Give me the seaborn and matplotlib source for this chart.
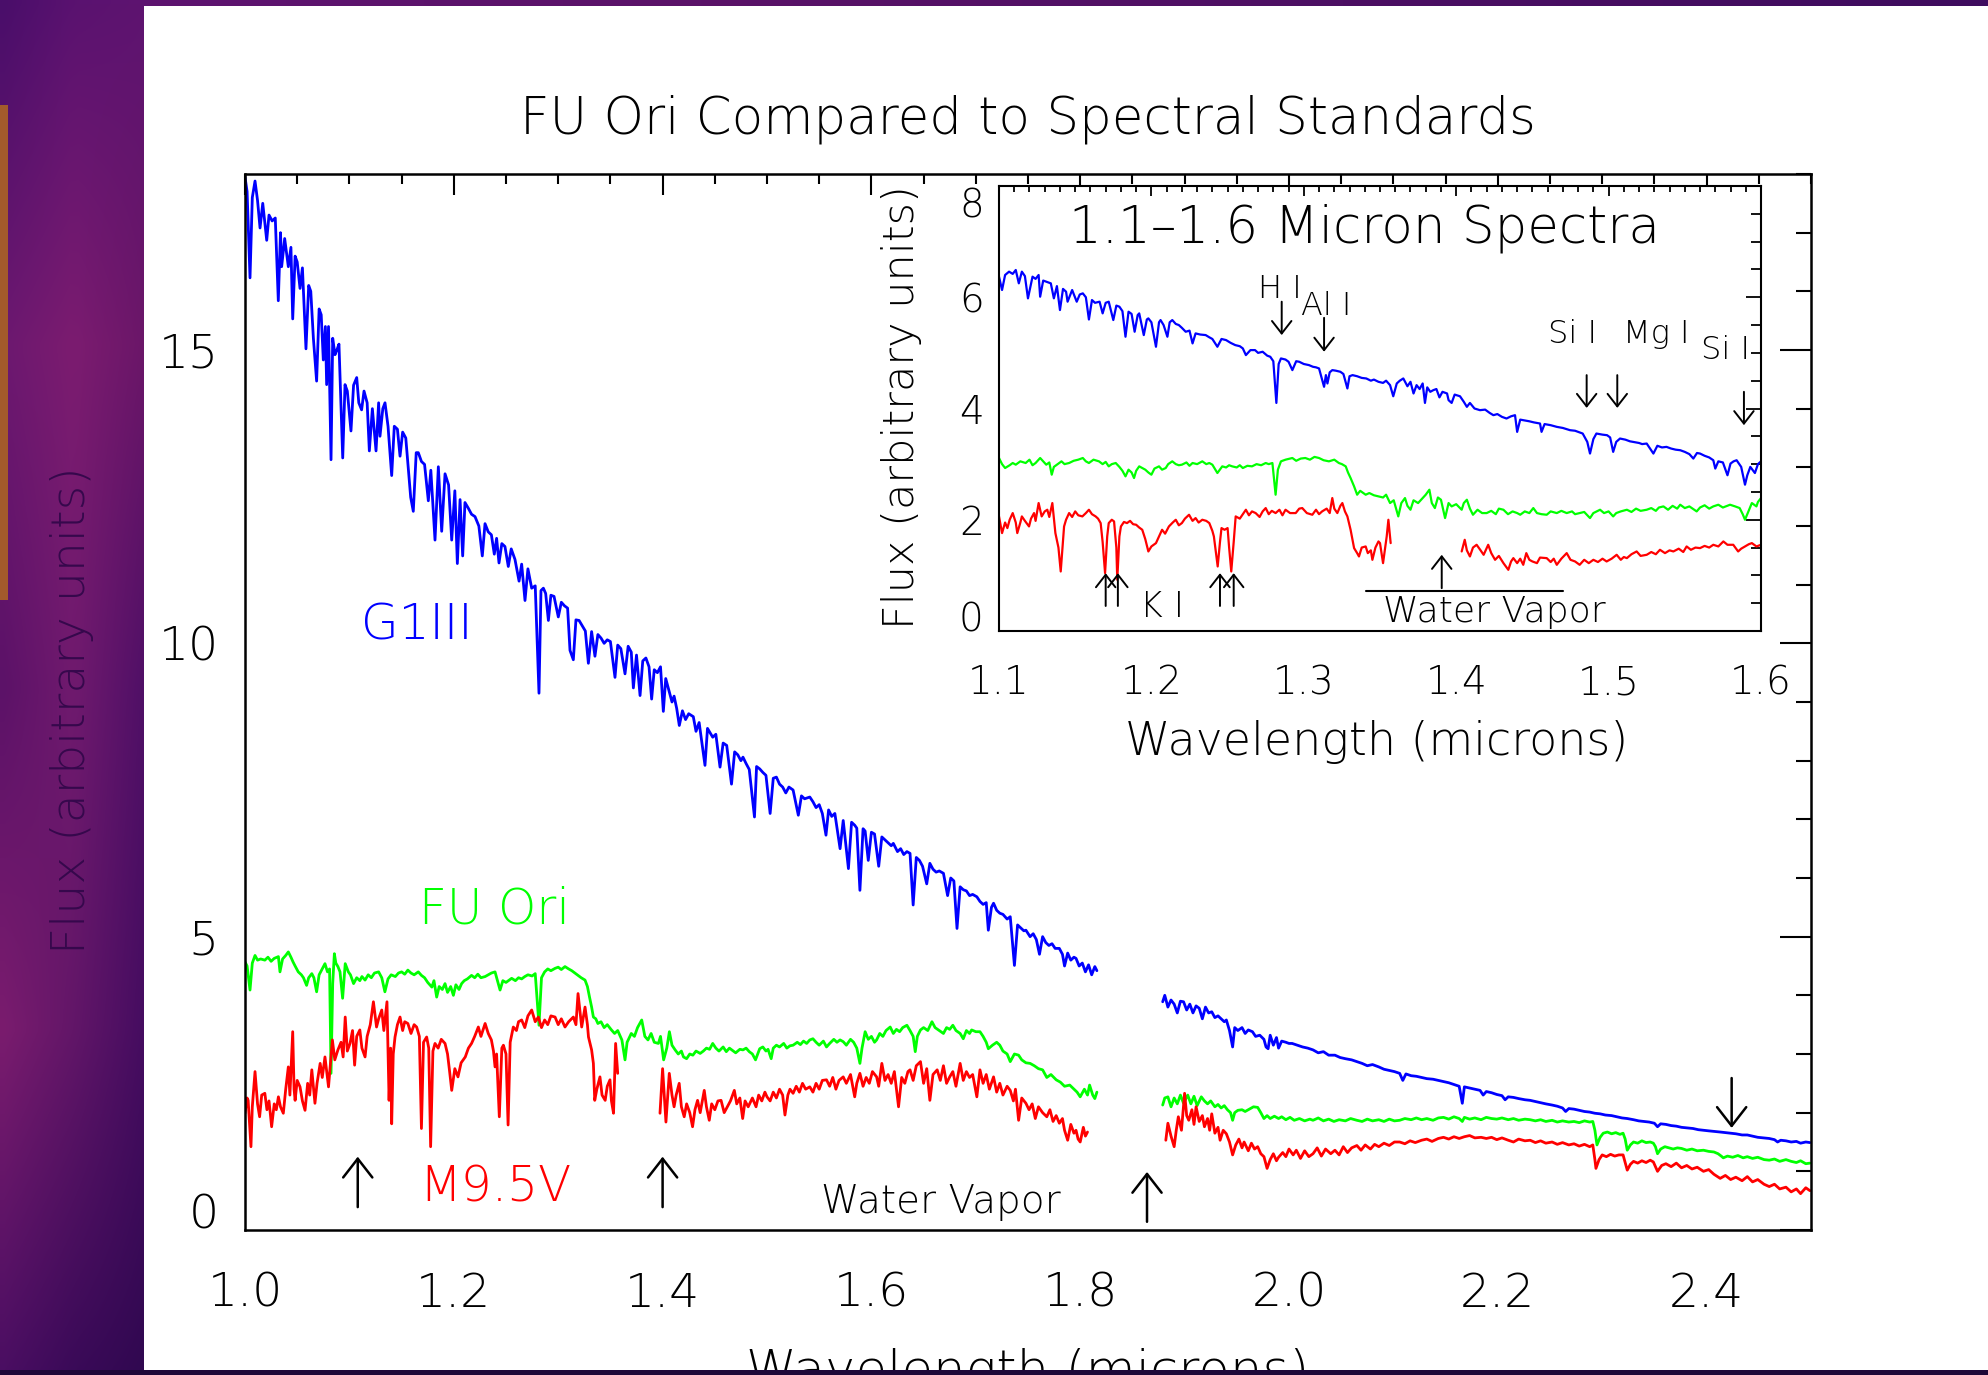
import numpy as np
import pandas as pd
import matplotlib
matplotlib.use("Agg")
import matplotlib.pyplot as plt
import matplotlib.font_manager as fm
from matplotlib.patches import Rectangle
from matplotlib.ticker import MultipleLocator
from matplotlib.transforms import ScaledTranslation
import seaborn as sns

# ---------------------------------------------------------------- text
TITLE = "FU Ori Compared to Spectral Standards"
INSET_TITLE = "1.1\u20131.6 Micron Spectra"
XLABEL = "Wavelength (microns)"
YLABEL = "Flux (arbitrary units)"
STARS = ["G1III", "FU Ori", "M9.5V"]
COLORS = {"G1III": "#0000ff", "FU Ori": "#00ff00", "M9.5V": "#ff0000"}
MAIN_XTICKS = [1.0, 1.2, 1.4, 1.6, 1.8, 2.0, 2.2, 2.4]
MAIN_XTICK_LABELS = ["1.0", "1.2", "1.4", "1.6", "1.8", "2.0", "2.2", "2.4"]
MAIN_YTICKS = [0, 5, 10, 15]
MAIN_YTICK_LABELS = ["0", "5", "10", "15"]
INSET_XTICKS = [1.1, 1.2, 1.3, 1.4, 1.5, 1.6]
INSET_XTICK_LABELS = ["1.1", "1.2", "1.3", "1.4", "1.5", "1.6"]
INSET_YTICKS = [0, 2, 4, 6, 8]
INSET_YTICK_LABELS = ["0", "2", "4", "6", "8"]

# ---------------------------------------------------------------- main spectra (wavelength, flux)
G1III_A = [(1.000,17.95),(1.002,17.70),(1.0048,16.23),(1.007,17.60),(1.0096,17.88),(1.012,17.55),(1.0144,17.08),(1.017,17.50),
(1.0208,16.87),(1.023,17.30),(1.026,17.20),(1.029,17.25),(1.0319,15.84),(1.034,17.00),(1.0351,16.42),(1.038,16.90),(1.0415,16.42),
(1.044,16.75),(1.0457,15.53),(1.048,16.60),(1.050,16.50),(1.0527,16.05),(1.055,16.40),(1.0584,15.02),(1.061,16.10),(1.063,16.00),
(1.0655,15.20),(1.0686,14.47),(1.071,15.70),(1.073,15.60),(1.075,14.83),(1.077,15.40),(1.0782,14.41),(1.080,15.40),(1.0824,13.13),
(1.084,15.20),(1.0862,14.92),(1.088,15.00),(1.090,15.10),(1.0936,13.16),(1.0958,14.41),(1.098,14.30),(1.1015,13.62),(1.104,14.40),
(1.107,14.53),(1.109,14.10),(1.1117,13.98),(1.114,14.30),(1.117,14.10),(1.1191,13.28),(1.122,14.00),(1.1255,13.28),(1.128,14.10),
(1.1293,13.53),(1.132,14.00),(1.1341,14.10),(1.137,13.70),(1.1405,12.86),(1.143,13.70),(1.146,13.65),(1.1485,13.19),(1.151,13.60),
(1.154,13.50),(1.1587,12.49),(1.1612,12.25),(1.164,13.25),(1.166,13.25),(1.169,13.10),(1.172,13.05),(1.1756,12.43),(1.178,12.95),
(1.182,11.76),(1.1852,13.01),(1.1884,11.91),(1.1916,12.89),(1.195,12.70),(1.198,11.76),(1.201,12.60),(1.2034,11.36),(1.206,12.45),
(1.2085,11.49),(1.2107,12.40),(1.214,12.30),(1.217,12.20),(1.2203,12.16),(1.224,12.00),(1.2273,11.49),(1.2299,12.04),(1.233,11.90),
(1.236,11.85),(1.2388,11.52),(1.241,11.79),(1.2433,11.37),(1.246,11.70),(1.249,11.65),(1.2522,11.31),(1.255,11.61),(1.2586,11.43),
(1.2625,11.06),(1.265,11.35),(1.2682,10.73),(1.271,11.27),(1.2746,10.94),(1.278,10.98),(1.2816,9.15),(1.2835,10.90),(1.2858,10.94),
(1.288,10.85),(1.2906,10.39),(1.293,10.82),(1.296,10.80),(1.3001,10.45),(1.303,10.70),(1.306,10.64),(1.309,10.60),(1.3113,9.88),
(1.3145,9.72),(1.317,10.40),(1.320,10.39),(1.323,10.30),(1.326,10.21),(1.3289,9.66),(1.332,10.20),(1.3352,9.78),(1.338,10.15),
(1.341,10.09),(1.344,10.00),(1.347,10.06),(1.350,10.03),(1.3544,9.42),(1.357,9.97),(1.360,9.91),(1.364,9.48),(1.367,9.95),
(1.370,9.85),(1.372,9.24),(1.375,9.80),(1.3784,9.11),(1.381,9.70),(1.384,9.75),(1.387,9.60),(1.3895,9.05),(1.392,9.55),
(1.395,9.50),(1.398,9.60),(1.4007,8.84),(1.403,9.40),(1.406,9.20),(1.409,9.00),(1.411,9.10),(1.4135,8.89),(1.416,8.60),
(1.419,8.85),(1.422,8.70),(1.425,8.80),(1.4294,8.75),(1.432,8.50),(1.435,8.65),(1.4406,7.92),(1.443,8.55),(1.445,8.49),
(1.448,8.40),(1.451,8.45),(1.455,7.89),(1.458,8.30),(1.4614,8.26),(1.466,7.60),(1.469,8.15),(1.472,8.10),(1.475,8.00),
(1.477,8.06),(1.480,7.95),(1.483,7.85),(1.488,7.04),(1.490,7.90),(1.493,7.86),(1.496,7.80),(1.499,7.75),(1.503,7.10),
(1.506,7.70),(1.509,7.72),(1.512,7.60),(1.515,7.55),(1.518,7.45),(1.521,7.55),(1.525,7.50),(1.530,7.07),(1.533,7.40),
(1.536,7.35),(1.541,7.38),(1.544,7.30),(1.547,7.20),(1.550,7.25),(1.553,7.10),(1.5565,6.73),(1.559,7.16),(1.562,7.05),
(1.565,7.10),(1.570,6.50),(1.573,6.98),(1.578,6.16),(1.581,6.95),(1.584,6.90),(1.586,6.85),(1.589,5.79),(1.592,6.84),
(1.594,6.80),(1.597,6.30),(1.600,6.78),(1.603,6.75),(1.607,6.20),(1.610,6.70),(1.613,6.65),(1.616,6.60),(1.619,6.55),
(1.621,6.59),(1.625,6.45),(1.628,6.50),(1.631,6.40),(1.634,6.45),(1.637,6.42),(1.640,5.54),(1.643,6.35),(1.646,6.30),
(1.649,6.20),(1.653,5.90),(1.656,6.25),(1.659,6.15),(1.662,6.10),(1.665,6.12),(1.669,6.08),(1.673,5.70),(1.676,6.00),
(1.679,5.95),(1.682,5.14),(1.685,5.85),(1.688,5.80),(1.691,5.78),(1.694,5.70),(1.697,5.72),(1.701,5.68),(1.704,5.60),
(1.707,5.55),(1.710,5.58),(1.712,5.11),(1.715,5.50),(1.717,5.57),(1.720,5.45),(1.723,5.40),(1.726,5.38),(1.730,5.30),
(1.733,5.34),(1.737,4.51),(1.740,5.20),(1.743,5.15),(1.746,5.10),(1.748,5.11),(1.752,5.00),(1.755,5.05),(1.758,4.95),
(1.761,4.70),(1.764,5.00),(1.767,4.90),(1.770,4.85),(1.773,4.88),(1.776,4.80),(1.780,4.80),(1.783,4.70),(1.785,4.50),
(1.788,4.72),(1.791,4.60),(1.794,4.65),(1.796,4.63),(1.799,4.50),(1.802,4.55),(1.805,4.40),(1.808,4.52),(1.811,4.35),
(1.814,4.49),(1.816,4.42)]

G1III_B = [(1.879,3.89),(1.881,4.00),(1.884,3.80),(1.887,3.92),(1.890,3.85),(1.893,3.70),(1.896,3.90),(1.899,3.89),(1.902,3.75),
(1.905,3.85),(1.908,3.70),(1.911,3.82),(1.914,3.78),(1.917,3.60),(1.920,3.80),(1.923,3.70),(1.926,3.72),(1.929,3.62),(1.932,3.65),
(1.935,3.60),(1.938,3.55),(1.940,3.58),(1.943,3.40),(1.946,3.12),(1.948,3.45),(1.951,3.40),(1.955,3.45),(1.958,3.35),(1.961,3.41),
(1.965,3.38),(1.968,3.30),(1.972,3.32),(1.976,3.25),(1.978,3.12),(1.980,3.09),(1.982,3.32),(1.985,3.15),(1.988,3.28),(1.990,3.10),
(1.993,3.22),(1.997,3.20),(2.000,3.18),(2.003,3.18),(2.008,3.15),(2.013,3.12),(2.018,3.10),(2.023,3.07),(2.028,3.02),(2.033,3.04),
(2.038,2.98),(2.044,2.98),(2.049,2.94),(2.054,2.92),(2.060,2.90),(2.065,2.87),(2.070,2.84),(2.075,2.80),(2.080,2.82),(2.086,2.78),
(2.091,2.74),(2.096,2.72),(2.101,2.70),(2.106,2.67),(2.109,2.55),(2.112,2.66),(2.117,2.63),(2.122,2.62),(2.127,2.60),(2.132,2.58),
(2.138,2.57),(2.143,2.55),(2.148,2.53),(2.153,2.51),(2.158,2.48),(2.163,2.45),(2.166,2.16),(2.168,2.44),(2.173,2.42),(2.178,2.40),
(2.183,2.38),(2.186,2.30),(2.189,2.36),(2.194,2.34),(2.199,2.31),(2.204,2.29),(2.207,2.22),(2.210,2.27),(2.215,2.26),(2.220,2.24),
(2.226,2.22),(2.231,2.21),(2.236,2.19),(2.241,2.17),(2.246,2.15),(2.252,2.13),(2.257,2.11),(2.262,2.08),(2.265,2.02),(2.268,2.07),
(2.273,2.06),(2.278,2.04),(2.283,2.02),(2.288,2.01),(2.293,1.99),(2.298,1.98),(2.303,1.96),(2.309,1.95),(2.314,1.93),(2.319,1.91),
(2.324,1.90),(2.330,1.88),(2.335,1.86),(2.340,1.85),(2.345,1.84),(2.350,1.82),(2.353,1.76),(2.356,1.81),(2.361,1.80),(2.366,1.78),
(2.371,1.77),(2.376,1.75),(2.382,1.74),(2.387,1.73),(2.392,1.71),(2.397,1.70),(2.402,1.69),(2.408,1.68),(2.413,1.67),(2.418,1.66),
(2.423,1.65),(2.428,1.64),(2.434,1.62),(2.439,1.62),(2.444,1.60),(2.449,1.58),(2.455,1.57),(2.460,1.56),(2.465,1.54),(2.468,1.50),
(2.471,1.53),(2.476,1.52),(2.481,1.50),(2.486,1.51),(2.490,1.48),(2.495,1.50),(2.499,1.49)]

FUORI_A = [(1.000,4.57),(1.002,4.50),(1.0048,4.09),(1.007,4.55),(1.0096,4.68),(1.012,4.60),(1.015,4.62),(1.019,4.60),(1.022,4.65),
(1.025,4.58),(1.028,4.63),(1.032,4.66),(1.0335,4.40),(1.036,4.62),(1.039,4.68),(1.0415,4.74),(1.044,4.65),(1.046,4.57),(1.048,4.50),
(1.051,4.40),(1.054,4.35),(1.056,4.30),(1.059,4.17),(1.061,4.30),(1.064,4.37),(1.066,4.30),(1.0686,4.06),(1.071,4.35),(1.074,4.45),
(1.0766,4.54),(1.079,4.40),(1.081,4.45),(1.0824,2.67),(1.084,4.20),(1.0856,4.71),(1.087,4.55),(1.089,4.49),(1.091,4.40),(1.0935,3.95),
(1.096,4.54),(1.099,4.40),(1.101,4.35),(1.104,4.20),(1.107,4.30),(1.110,4.25),(1.112,4.32),(1.115,4.26),(1.118,4.35),(1.121,4.30),
(1.124,4.38),(1.128,4.40),(1.131,4.30),(1.134,4.06),(1.137,4.28),(1.140,4.35),(1.144,4.32),(1.147,4.38),(1.150,4.40),(1.153,4.36),
(1.156,4.43),(1.159,4.38),(1.162,4.35),(1.166,4.40),(1.169,4.34),(1.172,4.30),(1.175,4.22),(1.179,4.14),(1.181,4.25),(1.1836,3.97),
(1.186,4.15),(1.189,4.10),(1.1916,4.20),(1.194,4.05),(1.197,4.15),(1.1996,4.00),(1.202,4.18),(1.205,4.10),(1.2075,4.20),(1.210,4.25),
(1.213,4.28),(1.217,4.34),(1.220,4.30),(1.223,4.36),(1.226,4.30),(1.230,4.32),(1.233,4.35),(1.236,4.38),(1.2395,4.40),(1.2443,4.09),
(1.247,4.25),(1.250,4.22),(1.2554,4.29),(1.259,4.25),(1.262,4.30),(1.265,4.28),(1.268,4.32),(1.271,4.35),(1.275,4.33),(1.278,4.37),
(1.2816,3.49),(1.284,4.30),(1.287,4.40),(1.290,4.45),(1.293,4.42),(1.297,4.46),(1.300,4.48),(1.303,4.44),(1.3065,4.49),(1.310,4.45),
(1.313,4.42),(1.316,4.38),(1.319,4.34),(1.322,4.30),(1.3257,4.26),(1.328,4.15),(1.330,3.97),(1.332,3.80),(1.3337,3.63),(1.336,3.60),
(1.338,3.52),(1.341,3.55),(1.344,3.45),(1.347,3.50),(1.351,3.41),(1.354,3.35),(1.357,3.40),(1.361,3.24),(1.364,2.90),(1.366,3.20),
(1.370,3.35),(1.373,3.30),(1.376,3.45),(1.380,3.58),(1.383,3.30),(1.386,3.24),(1.389,3.35),(1.392,3.20),(1.396,3.18),(1.398,3.30),
(1.401,2.90),(1.404,3.10),(1.4065,3.38),(1.409,3.15),(1.412,3.07),(1.415,3.00),(1.418,3.05),(1.420,2.95),(1.423,2.92),(1.426,3.00),
(1.429,2.98),(1.432,3.05),(1.436,3.01),(1.439,3.05),(1.442,3.10),(1.445,3.08),(1.448,3.18),(1.451,3.10),(1.454,3.05),(1.458,3.12),
(1.461,3.04),(1.464,3.10),(1.467,3.06),(1.470,3.02),(1.474,3.08),(1.477,3.07),(1.480,3.10),(1.483,3.04),(1.486,3.00),(1.489,2.90),
(1.493,3.09),(1.496,3.12),(1.499,3.05),(1.501,3.08),(1.504,2.92),(1.506,3.10),(1.509,3.15),(1.512,3.12),(1.516,3.18),(1.519,3.10),
(1.522,3.14),(1.525,3.15),(1.529,3.20),(1.532,3.16),(1.535,3.22),(1.538,3.18),(1.541,3.24),(1.544,3.26),(1.547,3.20),(1.550,3.15),
(1.554,3.22),(1.557,3.12),(1.560,3.18),(1.564,3.25),(1.567,3.20),(1.570,3.24),(1.573,3.21),(1.576,3.15),(1.580,3.25),(1.583,3.20),
(1.586,3.10),(1.589,2.84),(1.591,3.10),(1.594,3.38),(1.597,3.25),(1.600,3.30),(1.603,3.20),(1.605,3.24),(1.608,3.35),(1.611,3.30),
(1.614,3.40),(1.618,3.46),(1.621,3.35),(1.624,3.42),(1.627,3.38),(1.630,3.45),(1.634,3.49),(1.637,3.40),(1.640,3.30),(1.642,3.04),
(1.644,3.30),(1.647,3.41),(1.650,3.45),(1.654,3.40),(1.658,3.55),(1.661,3.45),(1.665,3.40),(1.669,3.35),(1.672,3.45),(1.675,3.42),
(1.678,3.49),(1.681,3.40),(1.685,3.35),(1.688,3.26),(1.691,3.40),(1.694,3.35),(1.696,3.41),(1.700,3.38),(1.704,3.38),(1.707,3.30),
(1.710,3.20),(1.712,3.09),(1.716,3.15),(1.720,3.20),(1.723,3.15),(1.726,3.05),(1.730,3.00),(1.733,2.87),(1.737,3.00),(1.741,2.98),
(1.744,2.90),(1.748,2.85),(1.752,2.84),(1.756,2.80),(1.760,2.75),(1.764,2.73),(1.768,2.60),(1.772,2.65),(1.777,2.56),(1.781,2.52),
(1.785,2.45),(1.790,2.47),(1.794,2.40),(1.797,2.35),(1.800,2.27),(1.804,2.40),(1.807,2.30),(1.809,2.47),(1.812,2.30),(1.814,2.24),
(1.816,2.35)]

FUORI_B = [(1.879,2.13),(1.881,2.25),(1.884,2.27),(1.887,2.10),(1.890,2.25),(1.893,2.15),(1.896,2.30),(1.899,2.16),(1.903,2.30),
(1.906,2.15),(1.909,2.28),(1.912,2.12),(1.916,2.27),(1.919,2.20),(1.922,2.15),(1.925,2.20),(1.929,2.10),(1.932,2.14),(1.935,2.08),
(1.938,2.12),(1.941,2.05),(1.944,2.00),(1.946,1.87),(1.948,2.00),(1.951,2.04),(1.955,2.05),(1.958,2.02),(1.962,2.06),(1.966,2.10),
(1.970,2.09),(1.973,2.00),(1.976,1.90),(1.979,1.95),(1.982,1.90),(1.986,1.94),(1.990,1.90),(1.993,1.93),(1.997,1.88),(2.001,1.92),
(2.005,1.87),(2.010,1.90),(2.015,1.86),(2.020,1.89),(2.023,1.87),(2.028,1.91),(2.033,1.86),(2.038,1.89),(2.043,1.85),(2.048,1.88),
(2.054,1.86),(2.059,1.90),(2.065,1.87),(2.070,1.85),(2.075,1.89),(2.080,1.86),(2.086,1.88),(2.091,1.85),(2.096,1.89),(2.101,1.86),
(2.106,1.87),(2.111,1.90),(2.117,1.88),(2.122,1.91),(2.127,1.88),(2.132,1.90),(2.138,1.87),(2.143,1.91),(2.148,1.92),(2.153,1.89),
(2.158,1.93),(2.163,1.90),(2.166,1.85),(2.168,1.92),(2.173,1.89),(2.178,1.91),(2.184,1.88),(2.189,1.92),(2.194,1.90),(2.199,1.89),
(2.204,1.91),(2.210,1.88),(2.215,1.90),(2.220,1.87),(2.226,1.89),(2.231,1.88),(2.236,1.86),(2.241,1.88),(2.246,1.85),(2.252,1.87),
(2.257,1.84),(2.262,1.86),(2.268,1.84),(2.273,1.85),(2.278,1.83),(2.283,1.86),(2.288,1.84),(2.291,1.85),(2.293,1.70),(2.295,1.45),
(2.298,1.58),(2.301,1.65),(2.305,1.67),(2.309,1.64),(2.313,1.66),(2.317,1.63),(2.320,1.65),(2.322,1.55),(2.324,1.36),(2.327,1.45),
(2.330,1.50),(2.334,1.48),(2.338,1.52),(2.342,1.49),(2.346,1.50),(2.349,1.48),(2.351,1.42),(2.353,1.30),(2.356,1.38),(2.360,1.42),
(2.364,1.40),(2.368,1.38),(2.372,1.40),(2.376,1.39),(2.381,1.36),(2.386,1.38),(2.391,1.35),(2.397,1.36),(2.402,1.34),(2.407,1.33),
(2.411,1.30),(2.414,1.26),(2.416,1.23),(2.420,1.26),(2.425,1.24),(2.430,1.27),(2.435,1.23),(2.439,1.25),(2.444,1.22),(2.449,1.24),
(2.455,1.20),(2.460,1.19),(2.465,1.21),(2.470,1.17),(2.476,1.20),(2.481,1.17),(2.486,1.15),(2.490,1.18),(2.495,1.13),(2.499,1.14)]

M95V_A = [(1.000,1.99),(1.002,2.25),(1.003,2.21),(1.0057,1.42),(1.007,2.10),(1.0096,2.70),(1.012,2.15),(1.014,1.93),(1.016,2.30),
(1.019,2.33),(1.021,2.05),(1.023,2.20),(1.0255,1.76),(1.028,2.15),(1.030,2.05),(1.032,2.27),(1.034,2.10),(1.0367,1.99),(1.039,2.40),
(1.0415,2.78),(1.043,2.30),(1.0457,3.38),(1.047,2.40),(1.048,2.21),(1.050,2.55),(1.0527,2.44),(1.055,2.20),(1.0575,2.04),(1.060,2.50),
(1.062,2.30),(1.064,2.73),(1.067,2.16),(1.069,2.50),(1.072,2.84),(1.074,2.60),(1.0766,2.95),(1.080,2.44),(1.0837,3.24),(1.086,2.90),
(1.089,3.07),(1.092,3.20),(1.094,2.95),(1.096,3.63),(1.098,3.05),(1.1006,3.18),(1.103,3.40),(1.105,2.81),(1.107,3.30),(1.110,3.41),
(1.112,3.10),(1.115,2.95),(1.117,3.30),(1.120,3.50),(1.123,3.89),(1.126,3.46),(1.128,3.60),(1.131,3.75),(1.133,3.40),(1.136,3.89),
(1.138,2.21),(1.1395,3.10),(1.1405,1.81),(1.142,3.00),(1.1437,3.29),(1.146,3.50),(1.1485,3.63),(1.151,3.40),(1.153,3.55),(1.156,3.52),
(1.159,3.35),(1.162,3.50),(1.1644,3.46),(1.167,3.30),(1.169,1.73),(1.171,3.20),(1.174,3.29),(1.176,3.10),(1.1778,1.42),(1.180,3.05),
(1.182,3.18),(1.185,3.10),(1.188,3.25),(1.1916,3.18),(1.194,3.00),(1.196,2.70),(1.198,2.38),(1.201,2.75),(1.204,2.61),(1.207,2.85),
(1.211,2.95),(1.214,3.10),(1.217,3.18),(1.220,3.30),(1.2235,3.46),(1.226,3.30),(1.230,3.52),(1.233,3.35),(1.236,3.24),(1.238,3.05),
(1.2395,2.78),(1.241,3.00),(1.2436,1.93),(1.246,3.10),(1.2475,3.15),(1.250,3.00),(1.252,1.79),(1.254,3.20),(1.257,3.46),(1.260,3.40),
(1.262,3.55),(1.265,3.58),(1.268,3.45),(1.271,3.65),(1.2746,3.75),(1.278,3.55),(1.281,3.63),(1.284,3.45),(1.287,3.58),(1.290,3.50),
(1.293,3.65),(1.297,3.63),(1.300,3.50),(1.303,3.60),(1.3065,3.46),(1.310,3.55),(1.3145,3.63),(1.317,3.50),(1.319,4.03),(1.3225,3.46),
(1.3257,3.80),(1.328,3.50),(1.329,3.29),(1.332,3.07),(1.3337,2.84),(1.335,2.21),(1.337,2.40),(1.340,2.61),(1.342,2.30),(1.345,2.21),
(1.347,2.45),(1.3496,2.56),(1.351,2.20),(1.353,1.99),(1.355,3.18),(1.357,2.67)]

M95V_B = [(1.3975,1.99),(1.400,2.75),(1.4032,1.84),(1.4064,2.67),(1.409,2.30),(1.411,2.10),(1.413,2.30),(1.4159,2.50),(1.418,2.10),
(1.4207,1.93),(1.423,2.15),(1.426,2.00),(1.4287,1.76),(1.431,2.05),(1.4335,2.21),(1.436,2.00),(1.4399,2.38),(1.442,2.10),(1.4447,1.87),
(1.447,2.15),(1.450,2.05),(1.453,2.20),(1.456,2.21),(1.459,2.00),(1.462,2.10),(1.465,2.20),(1.4687,2.38),(1.471,2.15),(1.474,2.25),
(1.4767,1.90),(1.479,2.20),(1.482,2.10),(1.486,2.25),(1.4895,2.10),(1.492,2.30),(1.495,2.20),(1.498,2.35),(1.500,2.27),(1.503,2.20),
(1.506,2.35),(1.509,2.25),(1.512,2.40),(1.515,2.30),(1.5172,1.96),(1.520,2.30),(1.522,2.40),(1.525,2.33),(1.528,2.45),(1.531,2.35),
(1.534,2.50),(1.537,2.40),(1.541,2.44),(1.544,2.35),(1.547,2.50),(1.550,2.40),(1.553,2.55),(1.557,2.56),(1.560,2.45),(1.563,2.60),
(1.566,2.40),(1.569,2.55),(1.573,2.61),(1.576,2.50),(1.580,2.65),(1.584,2.27),(1.586,2.50),(1.589,2.67),(1.592,2.45),(1.595,2.60),
(1.598,2.50),(1.601,2.70),(1.605,2.61),(1.607,2.45),(1.610,2.84),(1.613,2.55),(1.616,2.65),(1.619,2.50),(1.622,2.70),(1.626,2.10),
(1.629,2.60),(1.632,2.50),(1.635,2.70),(1.637,2.73),(1.640,2.55),(1.643,2.80),(1.647,2.87),(1.650,2.50),(1.653,2.75),(1.656,2.21),
(1.659,2.65),(1.663,2.73),(1.666,2.55),(1.669,2.80),(1.672,2.50),(1.675,2.61),(1.678,2.70),(1.681,2.45),(1.685,2.84),(1.688,2.55),
(1.691,2.70),(1.694,2.60),(1.697,2.65),(1.701,2.27),(1.704,2.73),(1.707,2.50),(1.710,2.65),(1.713,2.40),(1.717,2.61),(1.720,2.35),
(1.723,2.50),(1.726,2.30),(1.730,2.45),(1.733,2.38),(1.736,2.20),(1.738,2.40),(1.741,1.87),(1.744,2.25),(1.748,2.16),(1.751,2.05),
(1.754,2.15),(1.757,1.90),(1.760,2.10),(1.764,2.00),(1.768,1.93),(1.771,2.05),(1.774,1.85),(1.777,1.95),(1.780,1.82),(1.783,1.90),
(1.785,1.70),(1.788,1.53),(1.791,1.80),(1.794,1.65),(1.796,1.70),(1.798,1.55),(1.800,1.50),(1.803,1.75),(1.805,1.60),(1.807,1.67)]

M95V_C = [(1.882,1.53),(1.884,1.82),(1.887,1.60),(1.890,1.42),(1.892,1.70),(1.894,1.93),(1.897,1.70),(1.900,2.33),(1.902,1.95),
(1.904,1.87),(1.907,2.05),(1.909,1.80),(1.911,2.10),(1.914,1.85),(1.917,1.95),(1.919,1.76),(1.922,1.90),(1.924,1.70),(1.926,1.98),
(1.929,1.65),(1.932,1.75),(1.934,1.53),(1.937,1.70),(1.940,1.64),(1.943,1.50),(1.946,1.28),(1.949,1.45),(1.952,1.55),(1.955,1.40),
(1.957,1.50),(1.961,1.35),(1.964,1.48),(1.967,1.38),(1.970,1.42),(1.973,1.30),(1.976,1.25),(1.979,1.05),(1.982,1.20),(1.985,1.30),
(1.988,1.18),(1.990,1.24),(1.994,1.32),(1.997,1.25),(2.000,1.38),(2.004,1.28),(2.007,1.36),(2.011,1.22),(2.015,1.35),(2.019,1.25),
(2.023,1.30),(2.027,1.40),(2.031,1.26),(2.035,1.38),(2.040,1.30),(2.044,1.36),(2.048,1.28),(2.052,1.42),(2.056,1.32),(2.060,1.40),
(2.065,1.44),(2.069,1.36),(2.073,1.45),(2.078,1.38),(2.082,1.46),(2.086,1.42),(2.091,1.48),(2.096,1.44),(2.101,1.50),(2.106,1.50),
(2.111,1.47),(2.116,1.52),(2.121,1.49),(2.127,1.53),(2.132,1.55),(2.137,1.51),(2.143,1.56),(2.148,1.58),(2.153,1.55),(2.158,1.59),
(2.163,1.56),(2.168,1.59),(2.173,1.61),(2.178,1.57),(2.184,1.58),(2.189,1.56),(2.194,1.58),(2.199,1.54),(2.204,1.57),(2.210,1.53),
(2.215,1.50),(2.220,1.55),(2.226,1.52),(2.231,1.53),(2.236,1.49),(2.241,1.52),(2.246,1.48),(2.252,1.50),(2.257,1.46),(2.262,1.49),
(2.268,1.45),(2.273,1.47),(2.278,1.43),(2.283,1.46),(2.288,1.42),(2.291,1.45),(2.293,1.20),(2.294,1.05),(2.297,1.20),(2.300,1.28),
(2.304,1.25),(2.308,1.29),(2.312,1.26),(2.316,1.28),(2.320,1.28),(2.322,1.15),(2.324,1.02),(2.327,1.12),(2.330,1.17),(2.334,1.14),
(2.338,1.18),(2.342,1.15),(2.346,1.19),(2.349,1.16),(2.351,1.08),(2.353,1.00),(2.357,1.10),(2.361,1.13),(2.366,1.08),(2.371,1.14),
(2.376,1.06),(2.381,1.10),(2.386,1.04),(2.391,1.07),(2.397,1.00),(2.402,1.03),(2.407,0.95),(2.413,0.88),(2.418,0.93),(2.423,0.86),
(2.428,0.90),(2.434,0.84),(2.439,0.91),(2.444,0.82),(2.449,0.86),(2.455,0.78),(2.460,0.74),(2.465,0.78),(2.470,0.70),(2.476,0.73),
(2.481,0.65),(2.486,0.70),(2.490,0.62),(2.495,0.72),(2.499,0.67)]

# ---------------------------------------------------------------- inset spectra (wavelength, flux)
IN_G1III = [(1.100,6.37),(1.102,6.13),(1.104,6.40),(1.1066,6.46),(1.109,6.42),(1.111,6.49),(1.113,6.25),(1.115,6.46),(1.117,6.38),
(1.119,5.98),(1.122,6.37),(1.124,6.33),(1.126,6.40),(1.127,6.01),(1.129,6.30),(1.131,6.28),(1.134,6.25),(1.136,5.98),(1.138,6.20),
(1.140,5.77),(1.142,6.15),(1.144,6.10),(1.145,5.92),(1.148,6.13),(1.151,5.92),(1.153,6.05),(1.155,6.07),(1.157,6.00),(1.159,5.60),
(1.161,5.95),(1.163,5.90),(1.166,5.92),(1.168,5.71),(1.170,5.90),(1.172,5.92),(1.175,5.59),(1.177,5.85),(1.179,5.83),(1.181,5.75),
(1.183,5.29),(1.185,5.74),(1.187,5.70),(1.189,5.38),(1.191,5.68),(1.192,5.71),(1.195,5.32),(1.197,5.60),(1.198,5.62),(1.200,5.55),
(1.203,5.11),(1.205,5.55),(1.206,5.59),(1.208,5.50),(1.2105,5.29),(1.212,5.55),(1.2137,5.59),(1.216,5.52),(1.218,5.50),(1.220,5.45),
(1.2225,5.38),(1.225,5.40),(1.227,5.17),(1.229,5.35),(1.232,5.33),(1.2356,5.32),(1.238,5.28),(1.240,5.25),(1.2433,5.11),(1.246,5.25),
(1.249,5.23),(1.252,5.18),(1.255,5.14),(1.258,5.12),(1.260,5.08),(1.262,4.96),(1.265,5.05),(1.268,5.05),(1.270,5.00),(1.273,5.02),
(1.276,4.95),(1.278,4.93),(1.280,4.85),(1.282,4.10),(1.2835,4.80),(1.285,4.90),(1.288,4.88),(1.290,4.84),(1.2925,4.69),(1.295,4.85),
(1.297,4.84),(1.300,4.80),(1.3034,4.78),(1.306,4.75),(1.308,4.74),(1.310,4.72),(1.3133,4.39),(1.3145,4.60),(1.3155,4.45),(1.317,4.65),
(1.3187,4.69),(1.321,4.68),(1.324,4.66),(1.326,4.62),(1.3286,4.36),(1.330,4.58),(1.332,4.60),(1.335,4.58),(1.338,4.55),(1.341,4.54),
(1.344,4.50),(1.346,4.52),(1.349,4.48),(1.352,4.46),(1.354,4.50),(1.3566,4.42),(1.3587,4.22),(1.361,4.45),(1.363,4.50),(1.3653,4.54),
(1.368,4.40),(1.370,4.48),(1.372,4.27),(1.374,4.42),(1.376,4.35),(1.378,4.45),(1.3795,4.10),(1.381,4.38),(1.383,4.30),(1.385,4.33),
(1.387,4.35),(1.389,4.20),(1.391,4.30),(1.394,4.27),(1.395,4.15),(1.397,4.10),(1.399,4.25),(1.4025,4.22),(1.405,4.12),(1.407,4.03),
(1.409,4.10),(1.412,4.00),(1.4156,3.97),(1.419,3.98),(1.422,3.92),(1.4244,3.88),(1.427,3.90),(1.430,3.85),(1.433,3.82),(1.436,3.86),
(1.4386,3.88),(1.440,3.58),(1.442,3.80),(1.444,3.79),(1.448,3.77),(1.451,3.75),(1.455,3.73),(1.456,3.58),(1.458,3.72),(1.462,3.70),
(1.466,3.67),(1.470,3.65),(1.4747,3.61),(1.478,3.60),(1.481,3.57),(1.483,3.55),(1.486,3.40),(1.4878,3.19),(1.490,3.45),(1.492,3.55),
(1.496,3.53),(1.499,3.52),(1.501,3.48),(1.503,3.22),(1.505,3.40),(1.5075,3.46),(1.511,3.44),(1.514,3.41),(1.516,3.40),(1.520,3.38),
(1.522,3.36),(1.525,3.37),(1.5294,3.19),(1.532,3.33),(1.535,3.30),(1.538,3.31),(1.541,3.28),(1.544,3.26),(1.547,3.25),(1.550,3.22),
(1.553,3.18),(1.5556,3.10),(1.558,3.20),(1.560,3.19),(1.563,3.15),(1.566,3.12),(1.5687,3.07),(1.570,2.92),(1.572,3.05),(1.575,3.03),
(1.578,2.80),(1.580,3.01),(1.582,3.05),(1.584,3.07),(1.587,2.95),(1.5895,2.63),(1.591,2.80),(1.593,2.95),(1.596,2.84),(1.598,3.00),
(1.600,3.05)]

IN_FUORI = [(1.100,3.11),(1.102,3.00),(1.104,2.93),(1.107,2.98),(1.109,3.02),(1.111,2.99),(1.114,3.05),(1.1175,3.02),(1.120,3.08),
(1.122,2.98),(1.124,3.02),(1.127,3.11),(1.129,3.05),(1.131,2.99),(1.133,3.03),(1.1346,2.81),(1.136,2.95),(1.138,2.99),(1.141,3.05),
(1.143,3.00),(1.146,3.02),(1.149,3.06),(1.152,3.08),(1.155,3.11),(1.157,3.05),(1.159,3.02),(1.162,3.08),(1.1656,3.05),(1.168,3.00),
(1.170,3.04),(1.172,2.96),(1.174,3.00),(1.1766,3.02),(1.179,2.95),(1.181,2.88),(1.183,2.78),(1.185,2.90),(1.187,2.85),(1.1886,2.75),
(1.190,2.88),(1.192,2.96),(1.194,2.93),(1.196,2.90),(1.198,2.85),(1.200,2.81),(1.202,2.92),(1.205,2.96),(1.207,2.90),(1.2094,2.93),
(1.211,3.00),(1.2137,3.05),(1.216,3.00),(1.218,2.98),(1.220,2.99),(1.223,3.03),(1.225,2.97),(1.227,3.02),(1.230,3.00),(1.2334,3.05),
(1.236,3.00),(1.238,3.02),(1.240,2.99),(1.2433,2.84),(1.2465,2.96),(1.249,2.94),(1.251,2.98),(1.253,2.96),(1.256,2.94),(1.258,2.98),
(1.260,2.93),(1.263,2.97),(1.266,2.96),(1.269,3.00),(1.272,2.98),(1.275,3.02),(1.277,3.00),(1.2794,3.02),(1.2815,2.45),(1.283,2.90),
(1.285,3.05),(1.288,3.08),(1.2925,3.11),(1.295,3.06),(1.298,3.10),(1.301,3.11),(1.304,3.08),(1.307,3.13),(1.310,3.11),(1.313,3.07),
(1.3165,3.05),(1.320,3.08),(1.323,3.02),(1.325,3.00),(1.3275,2.96),(1.329,2.85),(1.3307,2.75),(1.333,2.60),(1.335,2.45),(1.337,2.52),
(1.3406,2.45),(1.343,2.48),(1.346,2.44),(1.349,2.42),(1.352,2.40),(1.354,2.45),(1.3566,2.30),(1.359,2.35),(1.362,2.06),(1.364,2.30),
(1.3664,2.39),(1.368,2.25),(1.370,2.18),(1.372,2.35),(1.375,2.30),(1.378,2.39),(1.380,2.45),(1.3824,2.54),(1.384,2.30),(1.386,2.21),
(1.388,2.40),(1.390,2.36),(1.3927,2.03),(1.395,2.30),(1.397,2.24),(1.400,2.28),(1.4036,2.18),(1.405,2.30),(1.407,2.36),(1.409,2.20),
(1.411,2.09),(1.414,2.18),(1.417,2.12),(1.420,2.12),(1.423,2.16),(1.426,2.10),(1.428,2.20),(1.431,2.18),(1.434,2.10),(1.437,2.15),
(1.440,2.12),(1.442,2.09),(1.445,2.15),(1.448,2.12),(1.4506,2.21),(1.453,2.12),(1.456,2.10),(1.4594,2.09),(1.462,2.15),(1.466,2.12),
(1.469,2.16),(1.4725,2.12),(1.476,2.15),(1.478,2.10),(1.481,2.12),(1.484,2.14),(1.4878,2.03),(1.490,2.12),(1.4944,2.18),(1.497,2.12),
(1.500,2.15),(1.503,2.06),(1.505,2.12),(1.508,2.15),(1.512,2.18),(1.515,2.14),(1.518,2.20),(1.521,2.16),(1.525,2.18),(1.528,2.21),
(1.531,2.16),(1.533,2.22),(1.536,2.24),(1.539,2.18),(1.542,2.25),(1.545,2.20),(1.547,2.27),(1.550,2.21),(1.553,2.24),(1.5578,2.15),
(1.560,2.22),(1.563,2.26),(1.566,2.20),(1.5687,2.24),(1.572,2.27),(1.575,2.22),(1.5797,2.27),(1.583,2.24),(1.586,2.21),(1.588,2.10),
(1.5895,2.00),(1.591,2.10),(1.594,2.30),(1.597,2.24),(1.598,2.32),(1.600,2.39)]

IN_M95V_A = [(1.100,2.06),(1.102,1.76),(1.104,1.95),(1.1055,1.85),(1.107,2.00),(1.109,2.12),(1.111,1.95),(1.112,1.76),(1.114,1.95),
(1.115,2.06),(1.117,1.98),(1.1197,1.88),(1.121,2.02),(1.123,2.12),(1.124,1.98),(1.126,2.30),(1.128,2.06),(1.130,2.15),(1.1317,2.18),
(1.133,2.05),(1.135,2.30),(1.137,1.76),(1.139,1.50),(1.1405,1.07),(1.1427,1.88),(1.144,2.00),(1.146,2.12),(1.148,2.05),(1.150,2.15),
(1.152,2.08),(1.1547,2.06),(1.157,2.12),(1.159,2.18),(1.161,2.10),(1.1634,2.06),(1.165,2.02),(1.1667,1.94),(1.168,1.60),(1.1696,1.04),
(1.171,1.70),(1.172,1.94),(1.174,2.00),(1.1755,1.97),(1.177,1.50),(1.1776,0.92),(1.179,1.70),(1.180,1.88),(1.182,1.96),(1.184,1.94),
(1.186,1.98),(1.188,1.92),(1.190,1.91),(1.192,1.86),(1.194,1.82),(1.196,1.65),(1.198,1.43),(1.200,1.52),(1.203,1.58),(1.205,1.70),
(1.207,1.82),(1.209,1.75),(1.2115,1.88),(1.214,1.95),(1.216,2.00),(1.218,1.90),(1.220,1.94),(1.222,2.02),(1.2247,2.09),(1.227,1.98),
(1.229,2.03),(1.231,1.95),(1.2334,2.00),(1.236,1.98),(1.238,1.94),(1.240,1.80),(1.241,1.70),(1.2435,1.16),(1.245,1.60),(1.246,1.85),
(1.248,1.82),(1.250,1.85),(1.251,1.50),(1.2524,1.07),(1.254,1.60),(1.2553,2.06),(1.258,2.02),(1.260,2.10),(1.262,2.18),(1.264,2.08),
(1.266,2.15),(1.2684,2.12),(1.271,2.05),(1.273,2.15),(1.275,2.21),(1.277,2.10),(1.279,2.16),(1.2815,2.12),(1.284,2.18),(1.286,2.08),
(1.288,2.18),(1.291,2.12),(1.2947,2.12),(1.297,2.20),(1.299,2.21),(1.302,2.12),(1.3056,2.09),(1.308,2.18),(1.310,2.10),(1.312,2.15),
(1.315,2.20),(1.317,2.12),(1.3187,2.39),(1.320,2.20),(1.322,2.12),(1.324,2.25),(1.3253,2.30),(1.327,2.15),(1.3286,2.06),(1.3307,1.82),
(1.333,1.49),(1.335,1.40),(1.3362,1.34),(1.338,1.50),(1.3406,1.52),(1.342,1.40),(1.344,1.45),(1.345,1.28),(1.347,1.50),(1.349,1.61),
(1.350,1.58),(1.352,1.22),(1.3544,1.70),(1.3555,2.00),(1.357,1.58)]

IN_M95V_B = [(1.4036,1.43),(1.4056,1.64),(1.407,1.45),(1.409,1.34),(1.411,1.50),(1.4134,1.55),(1.416,1.45),(1.418,1.37),(1.421,1.55),
(1.423,1.40),(1.4255,1.28),(1.428,1.35),(1.431,1.22),(1.4342,1.10),(1.436,1.25),(1.4375,1.31),(1.440,1.22),(1.442,1.30),(1.444,1.19),
(1.446,1.40),(1.448,1.28),(1.450,1.25),(1.453,1.22),(1.455,1.32),(1.4594,1.31),(1.462,1.24),(1.464,1.30),(1.466,1.19),(1.469,1.30),
(1.4725,1.40),(1.475,1.28),(1.478,1.25),(1.481,1.19),(1.484,1.28),(1.487,1.22),(1.490,1.28),(1.493,1.24),(1.496,1.30),(1.4987,1.25),
(1.502,1.30),(1.5053,1.37),(1.508,1.28),(1.510,1.33),(1.512,1.31),(1.515,1.38),(1.5184,1.43),(1.521,1.35),(1.525,1.37),(1.528,1.42),
(1.531,1.38),(1.5337,1.46),(1.537,1.40),(1.540,1.45),(1.5425,1.43),(1.546,1.48),(1.549,1.42),(1.5512,1.52),(1.554,1.46),(1.557,1.50),
(1.560,1.49),(1.563,1.53),(1.566,1.50),(1.5687,1.55),(1.572,1.52),(1.5753,1.61),(1.578,1.55),(1.5818,1.55),(1.585,1.43),(1.587,1.48),
(1.5895,1.52),(1.592,1.56),(1.594,1.58),(1.597,1.52),(1.600,1.55)]

# ---------------------------------------------------------------- annotations
# main: (text, x, y baseline, colour)
MAIN_LABELS = [("G1III", 1.111, 10.07, "#0000ff"), ("FU Ori", 1.167, 5.23, "#00ff00"),
               ("M9.5V", 1.167, 0.48, "#ff0000")]
MAIN_WATER = ("Water Vapor", 1.667, 0.29)
MAIN_UP_ARROWS = [(1.108, 0.39, 1.25), (1.400, 0.39, 1.25), (1.864, 0.14, 0.99)]   # x, tail, head
MAIN_DOWN_ARROWS = [(2.424, 2.59, 1.74)]
# inset
INSET_LINE_LABELS = [("H I", 1.2843, 5.99), ("Al I", 1.315, 5.68), ("Si I", 1.476, 5.18),
                     ("Mg I", 1.531, 5.18), ("Si I", 1.5765, 4.89), ("K I", 1.207, 0.25),
                     ("Water Vapor", 1.425, 0.17)]
INSET_DOWN_ARROWS = [(1.2855, 5.92, 5.32), (1.3133, 5.63, 5.02), (1.4856, 4.60, 4.01),
                     (1.5057, 4.60, 4.01), (1.5888, 4.30, 3.70)]
INSET_UP_ARROWS = [(1.170, 0.45, 1.04), (1.178, 0.45, 1.04), (1.245, 0.45, 1.04),
                   (1.254, 0.45, 1.04), (1.3905, 0.77, 1.37)]
INSET_WATER_BAR = (1.341, 1.470, 0.72)

# ---------------------------------------------------------------- style / fonts
sns.set_theme(style="white")


def pick_light_font():
    wmap = {"ultralight": 200, "extralight": 200, "light": 300, "thin": 100,
            "normal": 400, "regular": 400, "book": 400}
    for pref in ["DejaVu Sans", "Open Sans", "Noto Sans", "Lato", "Roboto", "Inter"]:
        for f in fm.fontManager.ttflist:
            w = f.weight
            if isinstance(w, str):
                w = wmap.get(w.lower().replace(" ", ""), 400)
            if (f.name.startswith(pref) and 200 <= w <= 300 and f.style == "normal"
                    and "Condensed" not in f.name and "Mono" not in f.name
                    and "CJK" not in f.name and f.stretch in ("normal", 500)):
                return f.name, f.weight
    return "DejaVu Sans", "normal"


FONT_NAME, FONT_WEIGHT = pick_light_font()
plt.rcParams["font.family"] = [FONT_NAME, "DejaVu Sans"]
plt.rcParams["font.weight"] = FONT_WEIGHT
plt.rcParams["axes.titleweight"] = FONT_WEIGHT
plt.rcParams["axes.labelweight"] = FONT_WEIGHT
plt.rcParams["axes.unicode_minus"] = False

W, H = 1988, 1375
fig = plt.figure(figsize=(W / 100, H / 100), dpi=100)

# ---------------------------------------------------------------- slide background
bg = fig.add_axes([0, 0, 1, 1])
gx = [0, 70, 144, 700, 1988]
gy = [0, 344, 688, 1031, 1375]
gcols = [["#4a0e6a", "#5a1270", "#5e1470", "#5a1268", "#3e0c5e"],
         ["#6c1870", "#7c1c70", "#6a1668", "#5a1268", "#3e0c5e"],
         ["#5c1268", "#701a6e", "#4e0f66", "#5a1268", "#3e0c5e"],
         ["#7a1c6e", "#621668", "#440c60", "#5a1268", "#3e0c5e"],
         ["#4a0e62", "#3a0a58", "#300850", "#300850", "#300850"]]
rgb = np.array([[matplotlib.colors.to_rgb(c) for c in row] for row in gcols])
xs_f = np.linspace(0, W, 240)
ys_f = np.linspace(0, H, 170)
rows = np.stack([np.stack([np.interp(xs_f, gx, rgb[i, :, k]) for k in range(3)], -1)
                 for i in range(len(gy))])
grad = np.stack([np.stack([np.interp(ys_f, gy, rows[:, j, k]) for k in range(3)], -1)
                 for j in range(len(xs_f))], 1)
bg.imshow(grad, extent=(0, W, H, 0), aspect="auto", interpolation="bilinear")
bg.add_patch(Rectangle((144, 6), W - 144, 1364, facecolor="white", edgecolor="none"))
bg.add_patch(Rectangle((0, 105), 8, 495, facecolor="#a35a2b", edgecolor="none"))
bg.set_xlim(0, W)
bg.set_ylim(H, 0)
bg.axis("off")


def frame(pairs, star, seg):
    wl, fx = zip(*pairs)
    return pd.DataFrame({"wl": wl, "flux": fx, "star": star, "seg": seg})


# ---------------------------------------------------------------- main axes
ax = fig.add_axes([245 / W, 1 - 1230 / H, 1566 / W, 1056 / H])
ax.patch.set_alpha(0)
main_df = pd.concat([frame(G1III_A, "G1III", "g1a"), frame(G1III_B, "G1III", "g1b"),
                     frame(FUORI_A, "FU Ori", "fua"), frame(FUORI_B, "FU Ori", "fub"),
                     frame(M95V_A, "M9.5V", "ma"), frame(M95V_B, "M9.5V", "mb"),
                     frame(M95V_C, "M9.5V", "mc")], ignore_index=True)
sns.lineplot(data=main_df, x="wl", y="flux", hue="star", units="seg", estimator=None,
             sort=False, palette=COLORS, hue_order=STARS, linewidth=2.0, legend=False, ax=ax)
ax.set_xlim(1.0, 2.5)
ax.set_ylim(0, 18)
ax.set_xticks(MAIN_XTICKS)
ax.set_xticklabels(MAIN_XTICK_LABELS)
ax.set_yticks(MAIN_YTICKS)
ax.set_yticklabels(MAIN_YTICK_LABELS)
ax.xaxis.set_minor_locator(MultipleLocator(0.05))
ax.yaxis.set_minor_locator(MultipleLocator(1))
ax.tick_params(which="both", direction="in", top=True, right=True, colors="black", width=1.5)
ax.tick_params(axis="x", which="major", length=15, pad=30, labelsize=34)
ax.tick_params(axis="x", which="minor", length=7.5)
ax.tick_params(axis="y", which="major", length=22, pad=19, labelsize=34)
ax.tick_params(axis="y", which="minor", length=11)
for s in ax.spines.values():
    s.set_linewidth(1.8)
    s.set_color("black")
ax.set_xlabel(XLABEL, fontsize=37, color="black")
ax.xaxis.set_label_coords(0.5, -0.112)
ax.xaxis.label.set_va("top")
ax.set_ylabel(YLABEL, fontsize=34, color="#36084c")
ax.yaxis.label.set_va("center")
ax.yaxis.set_label_coords(-0.1105, 0.4924)
ax.set_title(TITLE, fontsize=37, y=1.0379, pad=0, color="black")

for txt, x, y, c in MAIN_LABELS:
    ax.text(x, y, txt, color=c, fontsize=35, ha="left", va="baseline")
ax.text(MAIN_WATER[1], MAIN_WATER[2], MAIN_WATER[0], color="black", fontsize=28,
        ha="center", va="baseline")
arrow_main = dict(arrowstyle="->,head_length=0.45,head_width=0.35", lw=1.8, color="black",
                  shrinkA=0, shrinkB=0, mutation_scale=30)
for x, y0, y1 in MAIN_UP_ARROWS + MAIN_DOWN_ARROWS:
    ax.annotate("", xy=(x, y1), xytext=(x, y0), arrowprops=arrow_main)

# ---------------------------------------------------------------- inset axes
axi = fig.add_axes([999 / W, 1 - 631 / H, 762 / W, 445 / H])
axi.set_facecolor("white")
inset_df = pd.concat([frame(IN_G1III, "G1III", "a"), frame(IN_FUORI, "FU Ori", "b"),
                      frame(IN_M95V_A, "M9.5V", "c"), frame(IN_M95V_B, "M9.5V", "d")],
                     ignore_index=True)
sns.lineplot(data=inset_df, x="wl", y="flux", hue="star", units="seg", estimator=None,
             sort=False, palette=COLORS, hue_order=STARS, linewidth=1.6, legend=False, ax=axi)
axi.set_xlim(1.1, 1.6)
axi.set_ylim(0, 8)
axi.set_xticks(INSET_XTICKS)
axi.set_xticklabels(INSET_XTICK_LABELS)
axi.set_yticks(INSET_YTICKS)
axi.set_yticklabels(INSET_YTICK_LABELS)
axi.xaxis.set_minor_locator(MultipleLocator(0.01))
axi.yaxis.set_minor_locator(MultipleLocator(0.5))
axi.tick_params(which="both", direction="in", top=True, right=True, colors="black", width=1.3)
axi.tick_params(axis="x", which="major", length=7, pad=24, labelsize=28)
axi.tick_params(axis="x", which="minor", length=4)
axi.tick_params(axis="y", which="major", length=11, pad=11, labelsize=28)
axi.tick_params(axis="y", which="minor", length=7)
for s in axi.spines.values():
    s.set_linewidth(1.5)
    s.set_color("black")
axi.set_xlabel(XLABEL, fontsize=33, color="black")
axi.xaxis.set_label_coords(0.495, -0.200)
axi.xaxis.label.set_va("top")
axi.set_ylabel(YLABEL, fontsize=31, color="black")
axi.yaxis.label.set_va("center")
axi.yaxis.set_label_coords(-0.1286, 0.503)
axi.text(0.480, 0.872, INSET_TITLE, transform=axi.transAxes, fontsize=37,
         ha="center", va="baseline", color="black")
for txt, x, y in INSET_LINE_LABELS:
    if txt == "Water Vapor":
        fs = 26
    elif txt == "K I":
        fs = 25
    else:
        fs = 23
    axi.text(x, y, txt, fontsize=fs, ha="center", va="baseline", color="black")
arrow_in = dict(arrowstyle="->,head_length=0.45,head_width=0.35", lw=1.4, color="black",
                shrinkA=0, shrinkB=0, mutation_scale=20)
for x, y0, y1 in INSET_DOWN_ARROWS + INSET_UP_ARROWS:
    axi.annotate("", xy=(x, y1), xytext=(x, y0), arrowprops=arrow_in)
axi.plot([INSET_WATER_BAR[0], INSET_WATER_BAR[1]], [INSET_WATER_BAR[2]] * 2,
         color="black", lw=1.5)

# IDL-style shifting of the end labels so they stay inside the frame
def shift(lbl, dy_px):
    lbl.set_transform(lbl.get_transform() + ScaledTranslation(0, dy_px / 100, fig.dpi_scale_trans))

mlabels = ax.get_yticklabels()
shift(mlabels[0], 19)
ilabels = axi.get_yticklabels()
shift(ilabels[0], 14)
shift(ilabels[-1], -16)

# dark slide edge along the bottom
fig.add_artist(Rectangle((0, 0), 1, 5 / H, transform=fig.transFigure,
                         facecolor="#1e0838", edgecolor="none", zorder=20))

fig.savefig("out.png", dpi=100)
